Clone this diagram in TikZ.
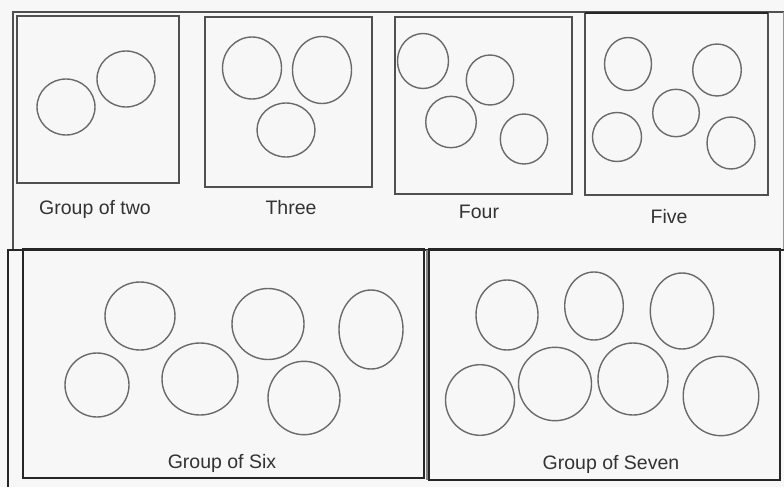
\documentclass[tikz,border=0pt]{standalone}
\usepackage{fontspec}
\setmainfont{Liberation Sans}
\begin{document}
\begin{tikzpicture}[x=1pt,y=-1pt,
  ring/.style={draw=ringgray,line width=1.4pt},
  boxframe/.style={draw=boxgray,line width=1.5pt},
  bigframe/.style={draw=black!85,line width=1.8pt},
  lbl/.style={text=textgray,font=\fontsize{19.5}{23}\selectfont,inner sep=0pt,anchor=base}]
\definecolor{bg}{HTML}{F7F7F7}
\definecolor{ringgray}{HTML}{6A6A6A}
\definecolor{boxgray}{HTML}{505050}
\definecolor{textgray}{HTML}{333333}
\useasboundingbox (0,0) rectangle (784,487);
\fill[bg] (0,0) rectangle (784,487);
% top outer frame
\draw[draw=boxgray,line width=1.5pt] (13,250) -- (13,12) -- (784,12);
\draw[draw=boxgray!60,line width=1pt] (783,12) -- (783,250);
% bottom outer frame
\draw[bigframe] (8,487) -- (8,250) -- (784,250);
% small boxes
\draw[boxframe] (17,16) rectangle (179,183);
\draw[boxframe] (205,17) rectangle (372,187);
\draw[boxframe] (395,17) rectangle (572,194);
\draw[boxframe] (585,13) rectangle (768,195);
\draw[draw=black!85,line width=1.5pt] (585,13) -- (768,13);
% big boxes
\draw[bigframe] (23,249) rectangle (424,478);
\draw[bigframe] (429,249) rectangle (780,480);
\draw[draw=boxgray!70,line width=1.2pt] (427,250) -- (427,480);
% labels
\node[lbl] (ltwo) at (95,214) {Group of two};
\node[lbl] (lthree) at (291,214) {Three};
\node[lbl] (lfour) at (479,218) {Four};
\node[lbl] (lfive) at (669,223) {Five};
\node[lbl] (lsix) at (222,468) {Group of Six};
\node[lbl] (lseven) at (611,469) {Group of Seven};
% group of two
\draw[ring] (66,107) ellipse [x radius=29pt,y radius=28pt];
\draw[ring] (126,79) ellipse [x radius=29pt,y radius=28pt];
% three
\draw[ring] (252,68) ellipse [x radius=29.5pt,y radius=31pt];
\draw[ring] (322,70) ellipse [x radius=29.5pt,y radius=33.5pt];
\draw[ring] (286,130) ellipse [x radius=29pt,y radius=27pt];
% four
\draw[ring] (423,61) ellipse [x radius=25.5pt,y radius=27.5pt];
\draw[ring] (490,80) ellipse [x radius=23.7pt,y radius=25pt];
\draw[ring] (451,122) ellipse [x radius=25.3pt,y radius=25.7pt];
\draw[ring] (524,139) ellipse [x radius=23.7pt,y radius=25pt];
% five
\draw[ring] (628,64) ellipse [x radius=23.5pt,y radius=26.5pt];
\draw[ring] (717,70) ellipse [x radius=24.3pt,y radius=26pt];
\draw[ring] (676,113) ellipse [x radius=23.3pt,y radius=23.7pt];
\draw[ring] (617,137) ellipse [x radius=24.5pt,y radius=24.5pt];
\draw[ring] (731,143) ellipse [x radius=24pt,y radius=26pt];
% six
\draw[ring] (140,316) ellipse [x radius=35pt,y radius=34pt];
\draw[ring] (268,324) ellipse [x radius=36pt,y radius=35.5pt];
\draw[ring] (371,329.5) ellipse [x radius=32pt,y radius=39.5pt];
\draw[ring] (97,385) ellipse [x radius=32pt,y radius=32pt];
\draw[ring] (200,379) ellipse [x radius=38pt,y radius=36pt];
\draw[ring] (304,398) ellipse [x radius=36pt,y radius=36.7pt];
% seven
\draw[ring] (507,315) ellipse [x radius=31pt,y radius=35pt];
\draw[ring] (594,306) ellipse [x radius=29.3pt,y radius=34pt];
\draw[ring] (682,311) ellipse [x radius=31.7pt,y radius=38pt];
\draw[ring] (480,400) ellipse [x radius=34.5pt,y radius=35.3pt];
\draw[ring] (555,384) ellipse [x radius=36.5pt,y radius=36.7pt];
\draw[ring] (633,379) ellipse [x radius=35pt,y radius=36pt];
\draw[ring] (721,396) ellipse [x radius=37.8pt,y radius=39.7pt];
\end{tikzpicture}
\end{document}
